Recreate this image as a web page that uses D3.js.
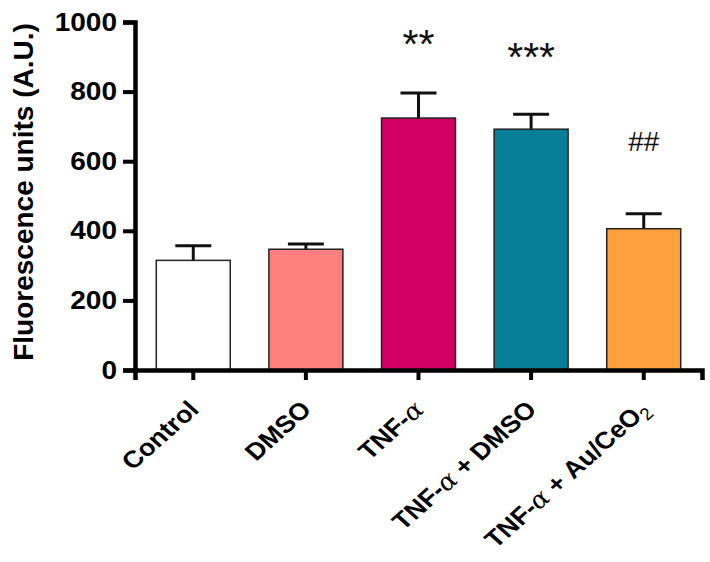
<!DOCTYPE html>
<html>
<head>
<meta charset="utf-8">
<script src="https://cdn.jsdelivr.net/npm/d3@7"></script>
<style>
  body { margin: 0; background: #fff; }
  text { font-family: "Liberation Sans", Arial, sans-serif; }
</style>
</head>
<body>
<script>
// data
var groups = ["Control", "DMSO", "TNF-a", "TNF-a + DMSO", "TNF-a + Au/CeO2"];
var means  = [315, 347, 724, 692, 406];
var errors = [42, 15, 72, 43, 43];
var colors = ["#ffffff", "#ff7f7f", "#d10062", "#087d97", "#ffa03e"];
var marks  = ["", "", "**", "***", "##"];
var yTicks = [0, 200, 400, 600, 800, 1000];

var width = 710, height = 562;
// the figure looks a little stretched sideways, so text gets a small x scale
var stretch = 1.12;

var svg = d3.select("body").append("svg")
    .attr("width", width)
    .attr("height", height);

var x = d3.scaleBand()
    .domain(groups)
    .range([135, 702])
    .paddingInner(0.343)
    .paddingOuter(0.189);

var y = d3.scaleLinear()
    .domain([0, 1000])
    .range([370, 22]);

// error bars (upper only) drawn first so bar sits on top
var eb = svg.append("g");
eb.selectAll(".stem")
  .data(groups)
  .enter().append("line")
    .attr("x1", function(d) { return x(d) + x.bandwidth() / 2; })
    .attr("x2", function(d) { return x(d) + x.bandwidth() / 2; })
    .attr("y1", function(d, i) { return y(means[i]); })
    .attr("y2", function(d, i) { return y(means[i] + errors[i]); })
    .attr("stroke", "#111")
    .attr("stroke-width", 3);
eb.selectAll(".cap")
  .data(groups)
  .enter().append("line")
    .attr("x1", function(d) { return x(d) + x.bandwidth() / 2 - 18; })
    .attr("x2", function(d) { return x(d) + x.bandwidth() / 2 + 18; })
    .attr("y1", function(d, i) { return y(means[i] + errors[i]); })
    .attr("y2", function(d, i) { return y(means[i] + errors[i]); })
    .attr("stroke", "#111")
    .attr("stroke-width", 3);

svg.selectAll(".bar")
  .data(groups)
  .enter().append("rect")
    .attr("class", "bar")
    .attr("x", function(d) { return x(d); })
    .attr("y", function(d, i) { return y(means[i]); })
    .attr("width", x.bandwidth())
    .attr("height", function(d, i) { return y(0) - y(means[i]); })
    .attr("fill", function(d, i) { return colors[i]; })
    .attr("stroke", "#222")
    .attr("stroke-width", 1.5);

// significance marks
svg.selectAll(".mark")
  .data(groups)
  .enter().append("text")
    .attr("x", function(d) { return x(d) + x.bandwidth() / 2; })
    .attr("y", function(d, i) {
      if (marks[i] == "**") return 58;
      if (marks[i] == "***") return 71;
      return 151;
    })
    .attr("text-anchor", "middle")
    .attr("font-size", function(d, i) { return marks[i].indexOf("#") >= 0 ? 28 : 41; })
    .attr("fill", "#111")
    .text(function(d, i) { return marks[i]; });

// axes
var yAxis = svg.append("g")
    .attr("transform", "translate(135,0)")
    .call(d3.axisLeft(y).tickValues(yTicks).tickFormat(d3.format("d"))
      .tickSizeOuter(0).tickSize(12).tickPadding(6));
yAxis.select(".domain").attr("stroke", "#000").attr("stroke-width", 4.5);
yAxis.selectAll(".tick line").attr("stroke", "#000").attr("stroke-width", 4);
yAxis.selectAll(".tick text")
    .attr("x", 0)
    .attr("transform", "translate(-18,0) scale(" + stretch + ",1)")
    .attr("font-size", 25)
    .attr("font-weight", "bold")
    .attr("font-family", "Liberation Sans, Arial, sans-serif")
    .attr("fill", "#000");

var xAxis = svg.append("g")
    .attr("transform", "translate(0,370)")
    .call(d3.axisBottom(x).tickSizeOuter(0).tickSize(10).tickFormat(""));
xAxis.select(".domain").attr("stroke", "#000").attr("stroke-width", 4.5);
xAxis.selectAll(".tick line").attr("stroke", "#000").attr("stroke-width", 4);

// rotated category labels, alpha as italic serif, subscript 2
var lab = xAxis.selectAll(".tick").append("text")
    .attr("transform", "translate(7,41) scale(" + stretch + ",1) rotate(-45)")
    .attr("text-anchor", "end")
    .attr("font-size", 24)
    .attr("font-weight", "bold")
    .attr("font-family", "Liberation Sans, Arial, sans-serif")
    .attr("fill", "#000");

lab.each(function(d) {
  var t = d3.select(this);
  var parts = d.split("TNF-a");
  if (parts.length == 1) {
    t.text(d);
    return;
  }
  t.append("tspan").text("TNF-");
  t.append("tspan")
    .attr("font-family", "DejaVu Serif, serif")
    .attr("font-style", "italic")
    .attr("font-weight", "normal")
    .text("\u03b1");
  var rest = parts[1];
  if (rest.slice(-1) == "2") {
    t.append("tspan").text(rest.slice(0, -1));
    t.append("tspan")
      .attr("font-size", 17)
      .attr("font-weight", "normal")
      .attr("dy", 5)
      .text("2");
  } else if (rest.length) {
    t.append("tspan").text(rest);
  }
});

svg.append("text")
    .attr("transform", "translate(33,192) rotate(-90)")
    .attr("text-anchor", "middle")
    .attr("font-size", 28)
    .attr("font-weight", "bold")
    .attr("fill", "#000")
    .text("Fluorescence units (A.U.)");
</script>
</body>
</html>
